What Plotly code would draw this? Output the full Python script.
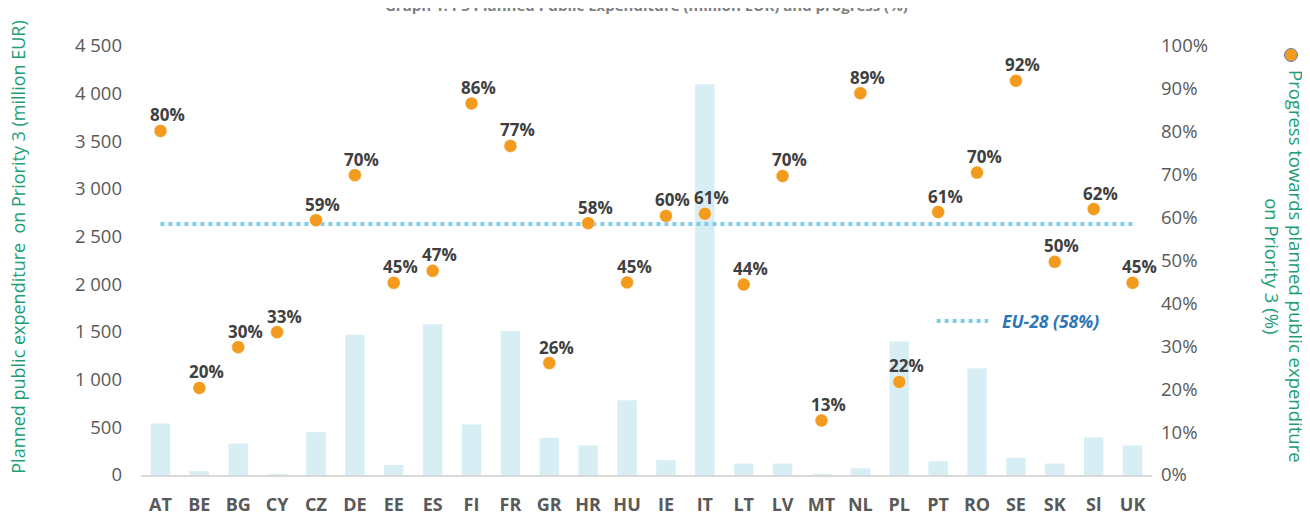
import plotly.graph_objects as go

countries = ["AT", "BE", "BG", "CY", "CZ", "DE", "EE", "ES", "FI", "FR", "GR", "HR", "HU",
             "IE", "IT", "LT", "LV", "MT", "NL", "PL", "PT", "RO", "SE", "SK", "Sl", "UK"]
planned_meur = [540, 40, 330, 5, 450, 1470, 105, 1580, 530, 1510, 390, 310, 785,
                155, 4100, 120, 120, 5, 70, 1400, 145, 1120, 180, 120, 395, 310]
progress = [0.802, 0.203, 0.298, 0.333, 0.594, 0.699, 0.448, 0.476, 0.866, 0.767, 0.261, 0.587, 0.449,
            0.604, 0.609, 0.444, 0.697, 0.127, 0.890, 0.217, 0.613, 0.705, 0.919, 0.497, 0.620, 0.448]
progress_labels = ["80%", "20%", "30%", "33%", "59%", "70%", "45%", "47%", "86%", "77%", "26%", "58%", "45%",
                   "60%", "61%", "44%", "70%", "13%", "89%", "22%", "61%", "70%", "92%", "50%", "62%", "45%"]
eu28 = 0.585
eu28_label = "EU-28 (58%)"
left_ticks = [0, 500, 1000, 1500, 2000, 2500, 3000, 3500, 4000, 4500]

FONT = "Open Sans"
GREEN = "#1E9E76"
ORANGE = "#F29B1E"
GREY = "#595959"

fig = go.Figure()
fig.add_trace(go.Bar(x=countries, y=planned_meur, marker_color="#D8EEF5",
                     marker_line_width=0, yaxis="y", showlegend=False))
fig.add_trace(go.Scatter(x=countries, y=[eu28] * len(countries), mode="lines",
                         line=dict(color="#7FCDE6", width=4, dash="dot"),
                         yaxis="y2", showlegend=False))
fig.add_trace(go.Scatter(x=countries, y=progress, mode="markers",
                         marker=dict(color=ORANGE, size=13, line=dict(color="white", width=0.5)),
                         yaxis="y2", showlegend=False))

annotations = []
for c, p, lab in zip(countries, progress, progress_labels):
    annotations.append(dict(x=c, y=p, xref="x", yref="y2", text=f"<b>{lab}</b>",
                            showarrow=False, yshift=16, xshift=7,
                            font=dict(family=FONT, size=17, color="#404040")))

annotations += [
    dict(x=0.5, y=1.096, xref="paper", yref="paper", showarrow=False,
         text="<b>Graph 1. P3 Planned Public Expenditure (million EUR) and progress (%)</b>",
         font=dict(family=FONT, size=15, color="#7F7F7F"), xanchor="center", yanchor="middle"),
    dict(x=-0.1217, y=0.532, xref="paper", yref="paper", showarrow=False, textangle=-90,
         xanchor="center", yanchor="middle",
         text="Planned public expenditure  on Priority 3 (million EUR)",
         font=dict(family=FONT, size=18, color=GREEN)),
    dict(x=1.1316, y=0.487, xref="paper", yref="paper", showarrow=False, textangle=90,
         xanchor="center", yanchor="middle",
         text="Progress towards planned public expenditure<br>on Priority 3 (%)",
         font=dict(family=FONT, size=18.5, color=GREEN), align="center"),
    dict(x=0.900, y=0.359, xref="paper", yref="paper", showarrow=False,
         xanchor="center", yanchor="middle",
         text=f"<b><i>{eu28_label}</i></b>",
         font=dict(family=FONT, size=17.5, color="#2E75B6")),
]

shapes = [
    dict(type="line", xref="paper", yref="paper", x0=0.787, x1=0.838, y0=0.359, y1=0.359,
         line=dict(color="#7FCDE6", width=4, dash="dot")),
    dict(type="circle", xref="paper", yref="paper", xsizemode="pixel", ysizemode="pixel",
         xanchor=1.1375, yanchor=0.979, x0=-6.5, x1=6.5, y0=-6.5, y1=6.5,
         fillcolor=ORANGE, line=dict(color="#5B7FC0", width=1)),
]

fig.update_layout(
    width=1302, height=509,
    margin=dict(l=133, r=158, t=38, b=42, autoexpand=False),
    paper_bgcolor="white", plot_bgcolor="white",
    bargap=0.5,
    separators=", ",
    font=dict(family=FONT, color=GREY),
    xaxis=dict(showgrid=False, showline=True, linecolor="#D9D9D9", linewidth=1.5,
               range=[-0.5, len(countries) - 0.5],
               tickfont=dict(family=FONT, size=18, color=GREY), ticks="", automargin=False,
               ticklabelstandoff=13, tickprefix="<b>", ticksuffix="</b>"),
    yaxis=dict(range=[0, 4500], tickvals=left_ticks, tickformat=",d", showgrid=False,
               zeroline=False, showline=False, tickfont=dict(family=FONT, size=18.5, color=GREY),
               ticklabelstandoff=18, automargin=False),
    yaxis2=dict(range=[0, 1], overlaying="y", side="right", dtick=0.1, tickformat=".0%",
                showgrid=False, zeroline=False, showline=False, automargin=False,
                tickfont=dict(family=FONT, size=18.5, color=GREY), ticklabelstandoff=8),
    annotations=annotations,
    shapes=shapes,
)

fig.write_html("out.html")
